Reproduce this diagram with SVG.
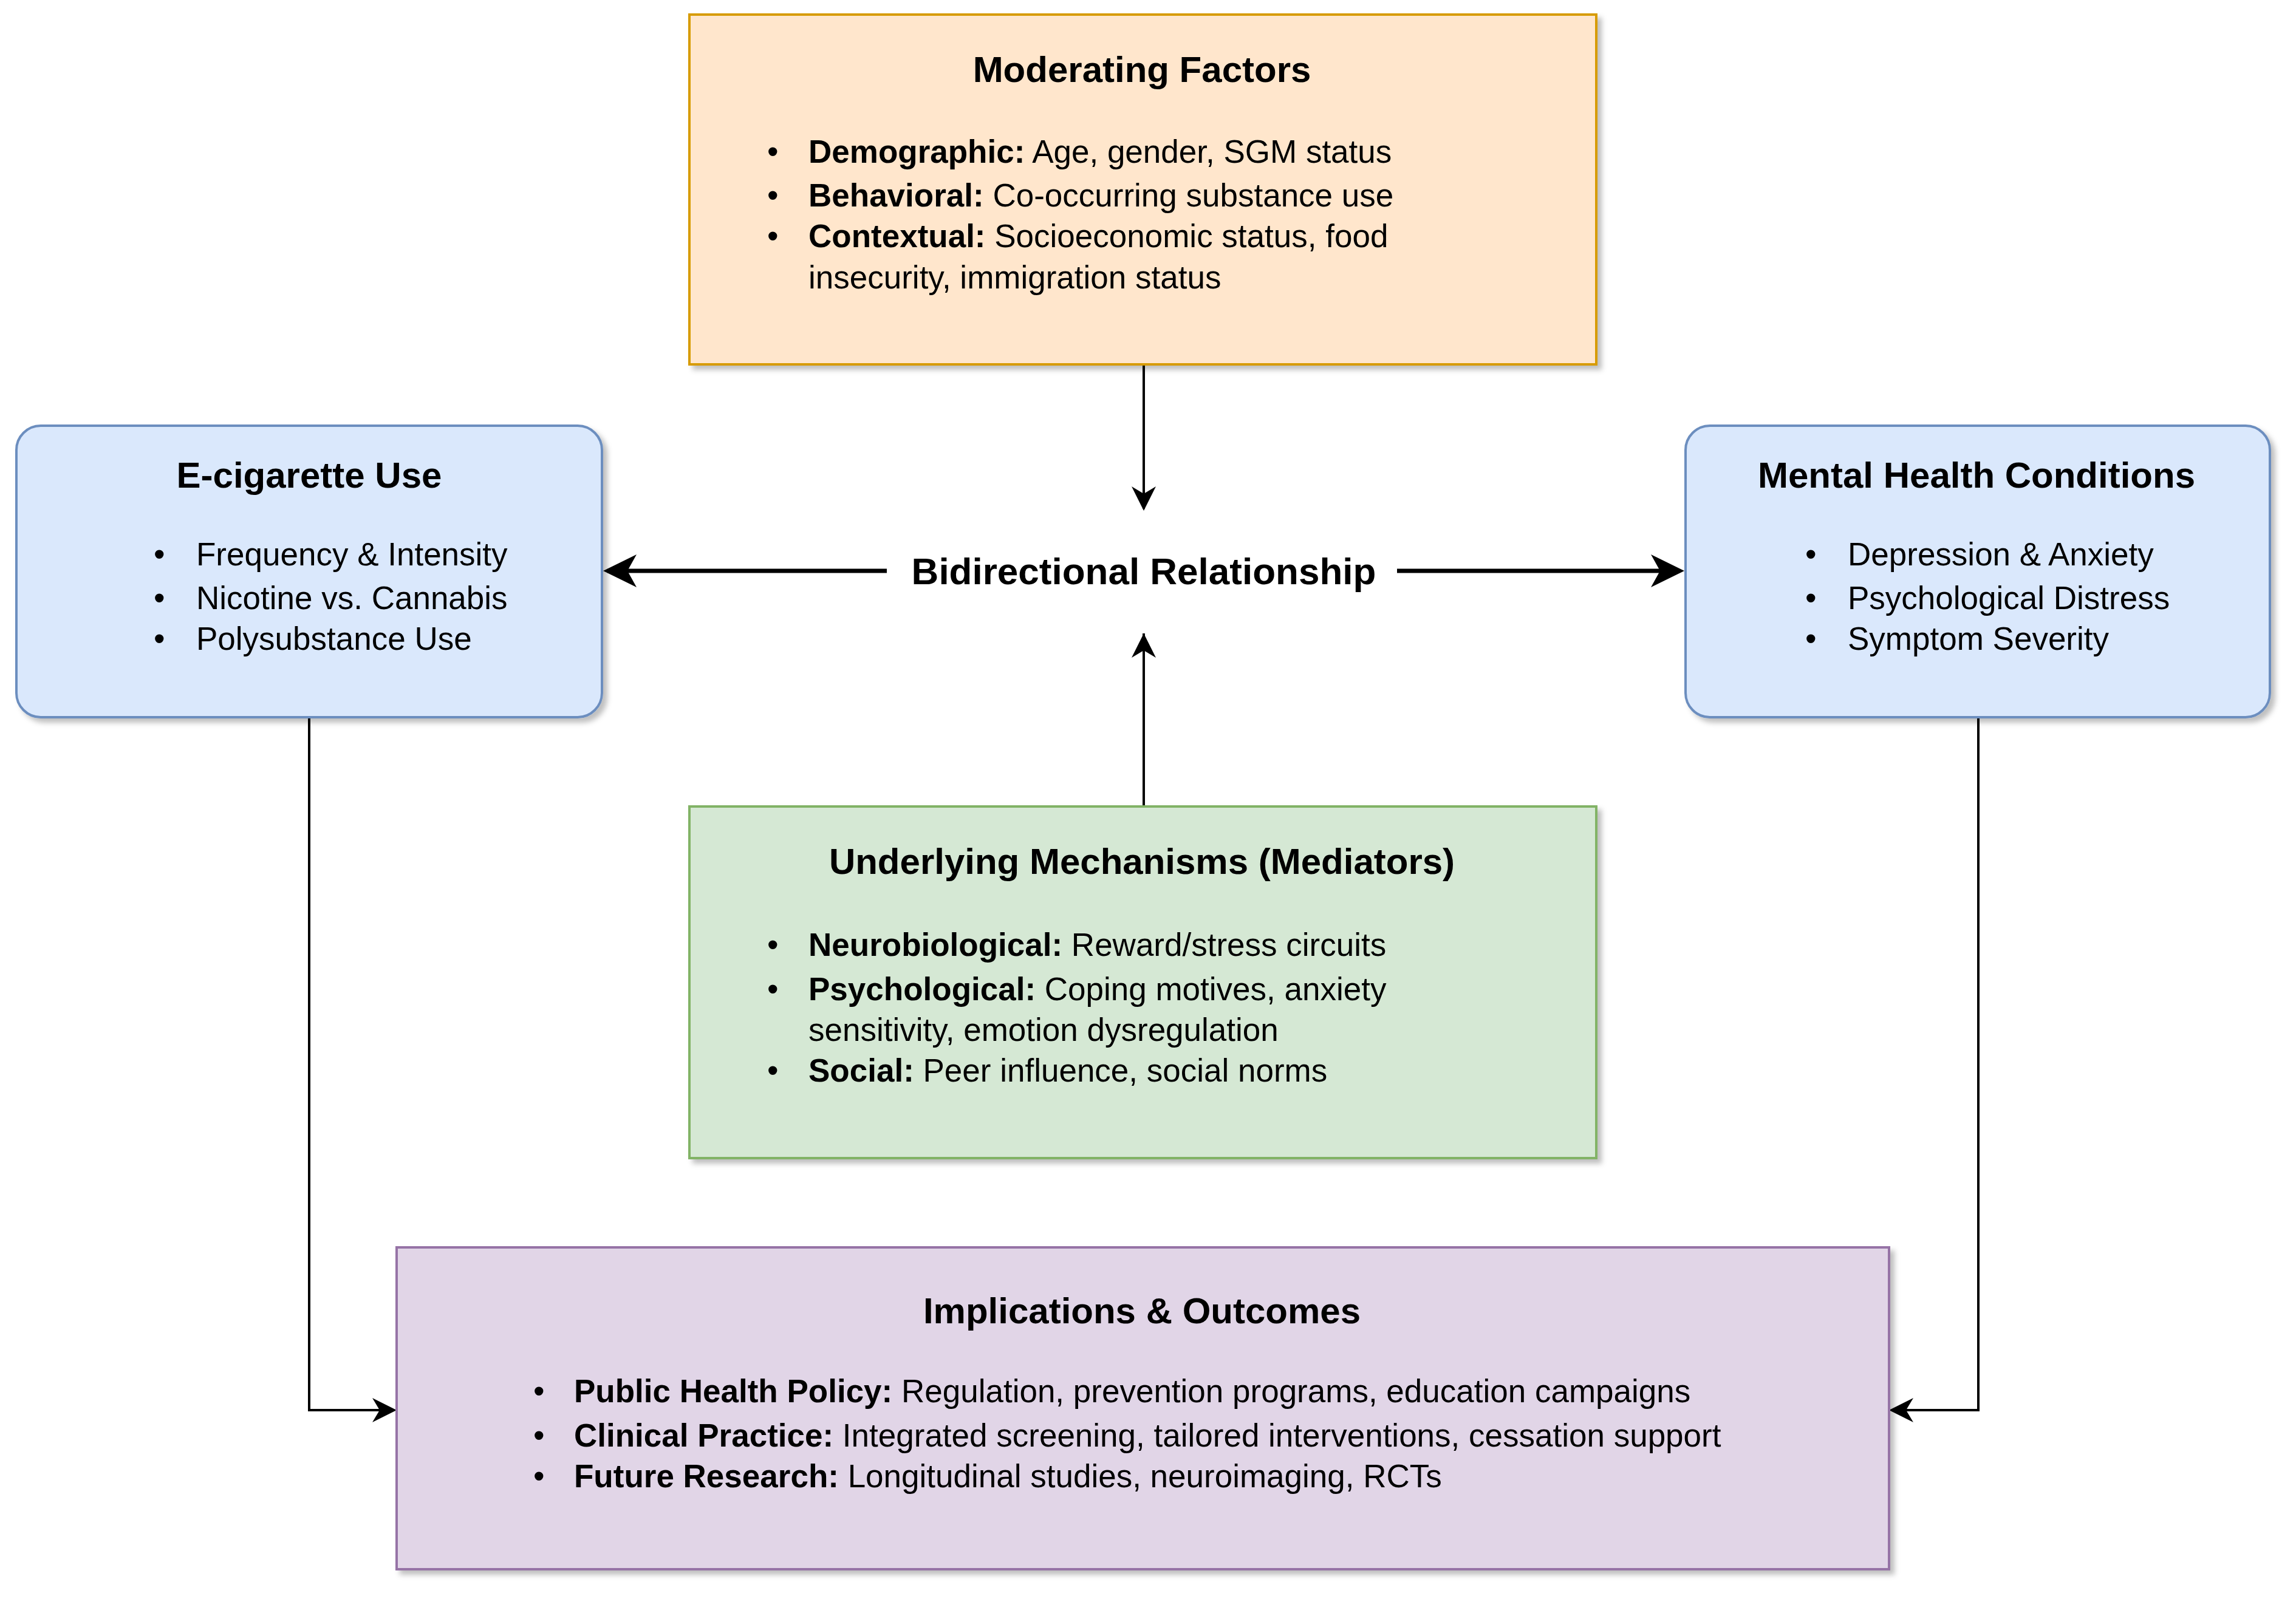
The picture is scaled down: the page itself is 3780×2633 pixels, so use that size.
<svg xmlns="http://www.w3.org/2000/svg" width="3780" height="2633" viewBox="0 0 3780 2633">
<defs>
<filter id="sh" x="-5%" y="-5%" width="110%" height="110%"><feDropShadow dx="7" dy="7" stdDeviation="4" flood-color="#000" flood-opacity="0.25"/></filter>
<marker id="ar" viewBox="0 0 10 10" refX="9" refY="5" markerWidth="7" markerHeight="7" markerUnits="userSpaceOnUse" orient="auto"><path d="M0,0 L10,5 L0,10 L3,5 Z" fill="#000"/></marker>
<marker id="arb" viewBox="0 0 10 10" refX="9" refY="5" markerWidth="8" markerHeight="8" orient="auto"><path d="M0,0 L10,5 L0,10 L3,5 Z" fill="#000"/></marker>
<style>
text{font-family:"Liberation Sans",Arial,sans-serif;fill:#000}
.t{font-size:60px;font-weight:bold;text-anchor:middle}
.b{font-size:53px}
.k{font-weight:bold}
.c{fill:none;stroke:#000;stroke-width:4}
</style>
</defs>
<rect width="3780" height="2633" fill="#fff"/>
<g id="connectors">
<path class="c" d="M1883,600 V838" marker-end="url(#ar)" style="marker-end:url(#m1)"/>
<path class="c" d="M1883,1328 V1043"/>
<path d="M1883,1043 l-20,40 l20,-12 l20,12 z" fill="#000"/>
<path d="M1883,841 l-20,-40 l20,12 l20,-12 z" fill="#000"/>
<path class="c" style="stroke-width:7" d="M1460,940 H1000"/>
<path d="M993,940 l55,-27 l-15,27 l15,27 z" fill="#000"/>
<path class="c" style="stroke-width:7" d="M2300,940 H2765"/>
<path d="M2773,940 l-55,-27 l15,27 l-15,27 z" fill="#000"/>
<path class="c" d="M509,1181 V2322 H645"/>
<path d="M653,2322 l-40,-20 l12,20 l-12,20 z" fill="#000"/>
<path class="c" d="M3257,1181 V2322 H3118"/>
<path d="M3110,2322 l40,-20 l-12,20 l12,20 z" fill="#000"/>
</g>
<g id="bidirectional">
<text x="1883" y="962" class="t" style="font-size:62px">Bidirectional Relationship</text>
</g>
<g id="moderating">
<rect x="1135" y="24" width="1493" height="576" fill="#ffe6cc" stroke="#d79b00" stroke-width="4" filter="url(#sh)"/>
<text x="1880" y="135" class="t">Moderating Factors</text>
<g class="b">
<text x="1263" y="268">•</text><text x="1331" y="268"><tspan class="k">Demographic:</tspan> Age, gender, SGM status</text>
<text x="1263" y="340">•</text><text x="1331" y="340"><tspan class="k">Behavioral:</tspan> Co-occurring substance use</text>
<text x="1263" y="407">•</text><text x="1331" y="407"><tspan class="k">Contextual:</tspan> Socioeconomic status, food</text>
<text x="1331" y="475">insecurity, immigration status</text>
</g>
</g>
<g id="ecig">
<rect x="27" y="701" width="964" height="480" rx="40" fill="#dae8fc" stroke="#6c8ebf" stroke-width="4" filter="url(#sh)"/>
<text x="509" y="803" class="t">E-cigarette Use</text>
<g class="b">
<text x="253" y="931">•</text><text x="323" y="931">Frequency &amp; Intensity</text>
<text x="253" y="1003">•</text><text x="323" y="1003">Nicotine vs. Cannabis</text>
<text x="253" y="1070">•</text><text x="323" y="1070">Polysubstance Use</text>
</g>
</g>
<g id="mental">
<rect x="2775" y="701" width="962" height="480" rx="40" fill="#dae8fc" stroke="#6c8ebf" stroke-width="4" filter="url(#sh)"/>
<text x="3254" y="803" class="t">Mental Health Conditions</text>
<g class="b">
<text x="2972" y="931">•</text><text x="3042" y="931">Depression &amp; Anxiety</text>
<text x="2972" y="1003">•</text><text x="3042" y="1003">Psychological Distress</text>
<text x="2972" y="1070">•</text><text x="3042" y="1070">Symptom Severity</text>
</g>
</g>
<g id="mechanisms">
<rect x="1135" y="1328" width="1493" height="579" fill="#d5e8d4" stroke="#82b366" stroke-width="4" filter="url(#sh)"/>
<text x="1880" y="1439" class="t">Underlying Mechanisms (Mediators)</text>
<g class="b">
<text x="1263" y="1574">•</text><text x="1331" y="1574"><tspan class="k">Neurobiological:</tspan> Reward/stress circuits</text>
<text x="1263" y="1647">•</text><text x="1331" y="1647"><tspan class="k">Psychological:</tspan> Coping motives, anxiety</text>
<text x="1331" y="1714">sensitivity, emotion dysregulation</text>
<text x="1263" y="1781">•</text><text x="1331" y="1781"><tspan class="k">Social:</tspan> Peer influence, social norms</text>
</g>
</g>
<g id="implications">
<rect x="653" y="2054" width="2457" height="530" fill="#e1d5e7" stroke="#9673a6" stroke-width="4" filter="url(#sh)"/>
<text x="1880" y="2179" class="t">Implications &amp; Outcomes</text>
<g class="b">
<text x="878" y="2309">•</text><text x="945" y="2309"><tspan class="k">Public Health Policy:</tspan> Regulation, prevention programs, education campaigns</text>
<text x="878" y="2382">•</text><text x="945" y="2382"><tspan class="k">Clinical Practice:</tspan> Integrated screening, tailored interventions, cessation support</text>
<text x="878" y="2449">•</text><text x="945" y="2449"><tspan class="k">Future Research:</tspan> Longitudinal studies, neuroimaging, RCTs</text>
</g>
</g>
</svg>
